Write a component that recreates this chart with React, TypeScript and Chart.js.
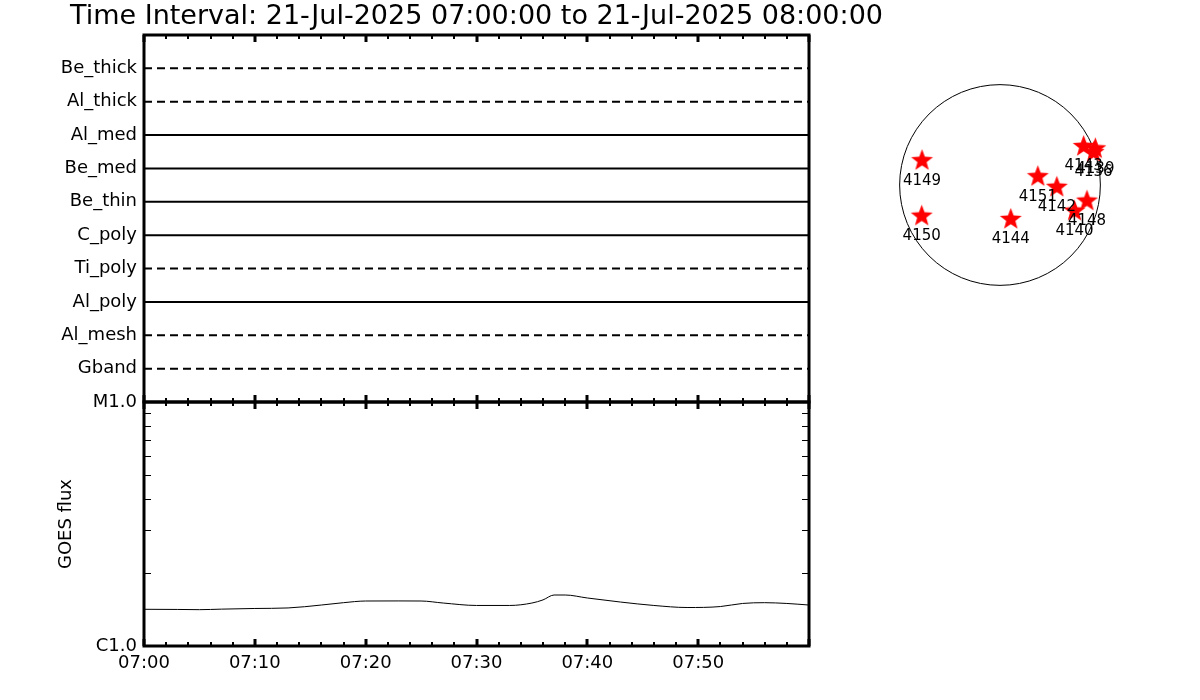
import React, { useEffect, useRef } from 'react';
import { Chart, registerables } from 'chart.js';

Chart.register(...registerables);

// ---------------- data ----------------
const titleText = 'Time Interval: 21-Jul-2025 07:00:00 to 21-Jul-2025 08:00:00';

const filterNames = ['Gband', 'Al_mesh', 'Al_poly', 'Ti_poly', 'C_poly', 'Be_thin', 'Be_med', 'Al_med', 'Al_thick', 'Be_thick'];
const filterLevels = [1, 2, 3, 4, 5, 6, 7, 8, 9, 10];
const filterDashed = [true, true, false, true, false, false, false, false, true, true];
const filterAxisMax = 11;

const timeStart = 0; // minutes after 07:00
const timeEnd = 60;
const xTickValues = [0, 10, 20, 30, 40, 50];
const xTickLabels = ['07:00', '07:10', '07:20', '07:30', '07:40', '07:50'];

const goesMinutes = [0, 3, 5, 7, 10, 13, 16, 18, 20, 23, 25, 27, 30, 33, 35, 36, 37, 38, 40, 43, 46, 49, 52, 54, 56, 58, 60];
const goesFlux = [
  1.414e-6, 1.412e-6, 1.409e-6, 1.416e-6, 1.425e-6, 1.432e-6, 1.472e-6, 1.505e-6, 1.529e-6, 1.530e-6,
  1.529e-6, 1.500e-6, 1.466e-6, 1.466e-6, 1.500e-6, 1.545e-6, 1.618e-6, 1.618e-6, 1.573e-6, 1.514e-6,
  1.466e-6, 1.438e-6, 1.451e-6, 1.494e-6, 1.505e-6, 1.494e-6, 1.472e-6,
];
const fluxMin = 1e-6;
const fluxMax = 1e-5;
const fluxMinorTicks = [2e-6, 3e-6, 4e-6, 5e-6, 6e-6, 7e-6, 8e-6, 9e-6];
const fluxLabelValues = [1e-6, 1e-5];
const fluxLabelTexts = ['C1.0', 'M1.0'];

const regionNumbers = ['4149', '4150', '4144', '4151', '4142', '4148', '4140', '4143', '4139', '4136'];
const regionX = [-746, -749, 103, 362, 544, 832, 713, 800, 912, 895];
const regionY = [233, -298, -329, 80, -22, -154, -250, 368, 346, 310];
const solarRadius = 960;
const diskRange = 1100;

// ---------------- helpers ----------------
const FONT = "'DejaVu Sans', sans-serif";

function makeStar(outer: number, inner: number, color: string): HTMLCanvasElement {
  const c = document.createElement('canvas');
  const s = Math.ceil(outer * 2 + 2);
  c.width = s;
  c.height = s;
  const g = c.getContext('2d')!;
  g.translate(s / 2, s / 2);
  g.beginPath();
  for (let i = 0; i < 10; i++) {
    const r = i % 2 === 0 ? outer : inner;
    const a = -Math.PI / 2 + (i * Math.PI) / 5;
    const x = r * Math.cos(a);
    const y = r * Math.sin(a);
    if (i === 0) g.moveTo(x, y);
    else g.lineTo(x, y);
  }
  g.closePath();
  g.fillStyle = color;
  g.fill();
  return c;
}

function framePlugin(opts: { top: boolean; bottom: boolean; yMinor?: number[]; title?: string }) {
  return {
    id: 'frameTicks',
    afterDraw(chart: any) {
      const { ctx, chartArea: a, scales } = chart;
      const xs = scales.x;
      ctx.save();
      ctx.strokeStyle = '#000';
      ctx.lineCap = 'butt';
      for (let m = timeStart; m <= timeEnd; m += 2) {
        const px = Math.round(xs.getPixelForValue(m));
        const major = m % 10 === 0;
        const len = major ? 7 : 4;
        ctx.lineWidth = major ? 3 : 2;
        ctx.beginPath();
        if (opts.top) {
          ctx.moveTo(px, a.top);
          ctx.lineTo(px, a.top + len);
        }
        if (opts.bottom) {
          ctx.moveTo(px, a.bottom);
          ctx.lineTo(px, a.bottom - len);
        }
        ctx.stroke();
      }
      if (opts.yMinor) {
        const ys = scales.y;
        ctx.lineWidth = 1;
        ctx.beginPath();
        for (const v of opts.yMinor) {
          const py = Math.round(ys.getPixelForValue(v)) + 0.5;
          ctx.moveTo(a.left, py);
          ctx.lineTo(a.left + 7, py);
          ctx.moveTo(a.right, py);
          ctx.lineTo(a.right - 7, py);
        }
        ctx.stroke();
      }
      ctx.lineWidth = 3;
      ctx.strokeRect(a.left, a.top, a.right - a.left, a.bottom - a.top);
      if (opts.title) {
        ctx.fillStyle = '#000';
        ctx.font = `27px ${FONT}`;
        ctx.textAlign = 'center';
        ctx.textBaseline = 'middle';
        ctx.fillText(opts.title, (a.left + a.right) / 2, 17);
      }
      ctx.restore();
    },
  };
}

const diskPlugin = {
  id: 'diskOutline',
  beforeDatasetsDraw(chart: any) {
    const { ctx, scales } = chart;
    const cx = scales.x.getPixelForValue(0);
    const cy = scales.y.getPixelForValue(0);
    const r = scales.x.getPixelForValue(solarRadius) - cx;
    ctx.save();
    ctx.strokeStyle = '#000';
    ctx.lineWidth = 1;
    ctx.beginPath();
    ctx.arc(cx, cy, r, 0, Math.PI * 2);
    ctx.stroke();
    ctx.restore();
  },
  afterDatasetsDraw(chart: any) {
    const { ctx } = chart;
    const meta = chart.getDatasetMeta(0);
    ctx.save();
    ctx.fillStyle = '#000';
    ctx.font = `15px ${FONT}`;
    ctx.textAlign = 'center';
    ctx.textBaseline = 'middle';
    meta.data.forEach((pt: any, i: number) => {
      ctx.fillText(regionNumbers[i], pt.x, pt.y + 20);
    });
    ctx.restore();
  },
};

const noPad = (s: any) => {
  s.paddingTop = 0;
  s.paddingBottom = 0;
  s.paddingLeft = 0;
  s.paddingRight = 0;
};

export default function App() {
  const topRef = useRef<HTMLCanvasElement>(null);
  const botRef = useRef<HTMLCanvasElement>(null);
  const diskRef = useRef<HTMLCanvasElement>(null);

  useEffect(() => {
    document.body.style.margin = '0';
    Chart.defaults.color = '#000';
    Chart.defaults.font.family = FONT;

    const topChart = new Chart(topRef.current!, {
      type: 'scatter',
      data: {
        datasets: filterNames.map((name, i) => ({
          label: name,
          data: [
            { x: timeStart, y: filterLevels[i] },
            { x: timeEnd, y: filterLevels[i] },
          ],
          showLine: true,
          borderColor: '#000',
          borderWidth: 2,
          borderDash: filterDashed[i] ? [8, 5] : [],
          pointRadius: 0,
        })),
      },
      options: {
        responsive: false,
        animation: false,
        layout: { autoPadding: false, padding: { left: 0, right: 151, top: 35, bottom: 2 } },
        plugins: {
          legend: { display: false },
          tooltip: { enabled: false },
          title: { display: false },
        },
        scales: {
          x: { type: 'linear', min: timeStart, max: timeEnd, display: false },
          y: {
            type: 'linear',
            min: 0,
            max: filterAxisMax,
            grid: { display: false, drawTicks: false },
            border: { display: false },
            afterBuildTicks: (s: any) => {
              s.ticks = filterLevels.map((v) => ({ value: v }));
            },
            afterFit: (s: any) => {
              s.width = 144;
              noPad(s);
            },
            ticks: {
              padding: 7,
              color: '#000',
              font: { family: FONT, size: 18 },
              callback: (v: any) => {
                const i = filterLevels.indexOf(Number(v));
                return i >= 0 ? filterNames[i] : '';
              },
            },
          },
        },
      },
      plugins: [framePlugin({ top: true, bottom: true, title: titleText })],
    } as any);

    const botChart = new Chart(botRef.current!, {
      type: 'line',
      data: {
        datasets: [
          {
            label: 'GOES flux',
            data: goesMinutes.map((m, i) => ({ x: m, y: goesFlux[i] })),
            borderColor: '#000',
            borderWidth: 1,
            pointRadius: 0,
            cubicInterpolationMode: 'monotone',
          },
        ],
      },
      options: {
        responsive: false,
        animation: false,
        layout: { autoPadding: false, padding: { left: 0, right: 21, top: 22, bottom: 0 } },
        plugins: { legend: { display: false }, tooltip: { enabled: false } },
        scales: {
          x: {
            type: 'linear',
            min: timeStart,
            max: timeEnd,
            grid: { display: false, drawTicks: false },
            border: { display: false },
            afterBuildTicks: (s: any) => {
              s.ticks = xTickValues.map((v) => ({ value: v }));
            },
            afterFit: (s: any) => {
              s.height = 54;
              noPad(s);
            },
            ticks: {
              padding: 7,
              maxRotation: 0,
              color: '#000',
              font: { family: FONT, size: 18 },
              callback: (v: any) => {
                const i = xTickValues.indexOf(Number(v));
                return i >= 0 ? xTickLabels[i] : '';
              },
            },
          },
          y: {
            type: 'logarithmic',
            min: fluxMin,
            max: fluxMax,
            grid: { display: false, drawTicks: false },
            border: { display: false },
            afterBuildTicks: (s: any) => {
              s.ticks = fluxLabelValues.map((v) => ({ value: v }));
            },
            afterFit: (s: any) => {
              s.width = 144;
              noPad(s);
            },
            title: {
              display: true,
              text: 'GOES flux',
              color: '#000',
              font: { family: FONT, size: 18 },
              padding: { top: 56, bottom: 0 },
            },
            ticks: {
              padding: 7,
              color: '#000',
              font: { family: FONT, size: 18 },
              callback: (v: any) => {
                const i = fluxLabelValues.findIndex((f) => Math.abs(f - Number(v)) < f * 1e-6);
                return i >= 0 ? fluxLabelTexts[i] : '';
              },
            },
          },
        },
      },
      plugins: [framePlugin({ top: true, bottom: true, yMinor: fluxMinorTicks })],
    } as any);

    const star = makeStar(11.5, 4.8, '#ff0000');
    const diskChart = new Chart(diskRef.current!, {
      type: 'scatter',
      data: {
        datasets: [
          {
            label: 'AR',
            data: regionX.map((x, i) => ({ x, y: regionY[i] })),
            pointStyle: star,
            pointRadius: 11,
            clip: false,
          },
        ],
      },
      options: {
        responsive: false,
        animation: false,
        layout: { autoPadding: false, padding: 0 },
        plugins: { legend: { display: false }, tooltip: { enabled: false } },
        scales: {
          x: { type: 'linear', min: -diskRange, max: diskRange, display: false },
          y: { type: 'linear', min: -diskRange, max: diskRange, display: false },
        },
      },
      plugins: [diskPlugin],
    } as any);

    return () => {
      topChart.destroy();
      botChart.destroy();
      diskChart.destroy();
    };
  }, []);

  return (
    <div style={{ position: 'absolute', left: 0, top: 0, width: 1200, height: 700, background: '#fff', overflow: 'hidden' }}>
      <canvas ref={topRef} width={960} height={404} style={{ position: 'absolute', left: 0, top: 0, width: 960, height: 404 }} />
      <canvas ref={botRef} width={830} height={320} style={{ position: 'absolute', left: 0, top: 380, width: 830, height: 320 }} />
      <canvas ref={diskRef} width={230} height={230} style={{ position: 'absolute', left: 885, top: 70, width: 230, height: 230 }} />
    </div>
  );
}
